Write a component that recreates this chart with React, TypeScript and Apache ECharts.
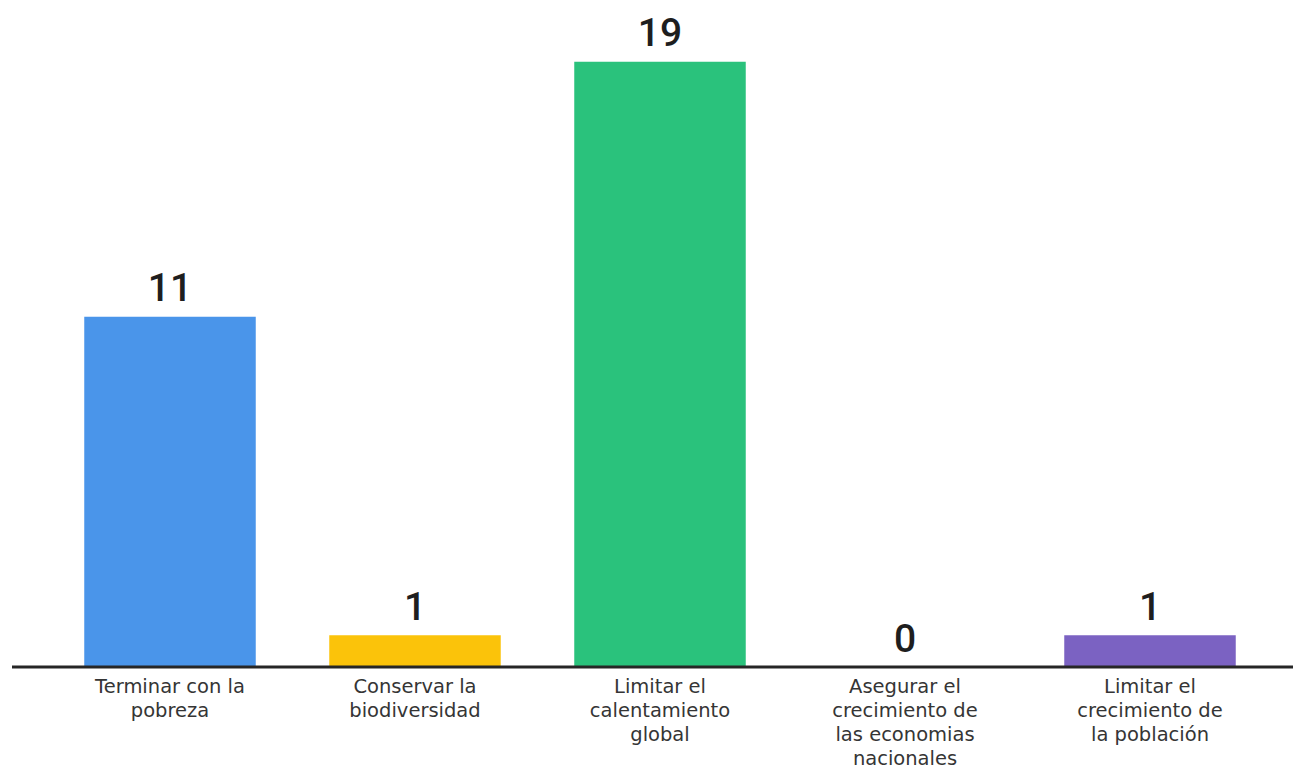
import React, { useEffect, useRef } from "react";
import * as echarts from "echarts";

const categories = [
  "Terminar con la\npobreza",
  "Conservar la\nbiodiversidad",
  "Limitar el\ncalentamiento\nglobal",
  "Asegurar el\ncrecimiento de\nlas economias\nnacionales",
  "Limitar el\ncrecimiento de\nla población",
];
const values = [11, 1, 19, 0, 1];
const colors = ["#4a95ea", "#fbc30a", "#2ac27c", "#2ac27c", "#7b62c2"];

export default function App() {
  const ref = useRef<HTMLDivElement>(null);
  useEffect(() => {
    document.body.style.margin = "0";
    const chart = echarts.init(ref.current!, null, { renderer: "svg" });
    chart.setOption({
      animation: false,
      backgroundColor: "#ffffff",
      grid: { left: 47.5, right: 20.5, top: 30, bottom: 102 },
      xAxis: {
        type: "category",
        data: categories,
        axisLine: { show: false },
        axisTick: { show: false },
        axisLabel: {
          interval: 0,
          margin: 7,
          color: "#353535",
          fontFamily: "DejaVu Sans",
          fontSize: 19.5,
          lineHeight: 24,
          align: "center",
        },
      },
      yAxis: {
        type: "value",
        min: 0,
        max: 20,
        show: false,
        splitLine: { show: false },
      },
      series: [
        {
          type: "bar",
          barWidth: "70%",
          data: values.map((v, i) => ({ value: v, itemStyle: { color: colors[i] } })),
          label: {
            show: true,
            position: "top",
            distance: 9,
            color: "#1e1e1e",
            fontFamily: "Roboto",
            fontWeight: 500,
            fontSize: 39,
          },
        },
      ],
      graphic: [
        {
          type: "line",
          shape: { x1: 12, y1: 667, x2: 1293, y2: 667 },
          style: { stroke: "#262626", lineWidth: 3 },
          z: 10,
        },
      ],
    });
    return () => chart.dispose();
  }, []);
  return <div ref={ref} style={{ width: 1293, height: 770 }} />;
}
